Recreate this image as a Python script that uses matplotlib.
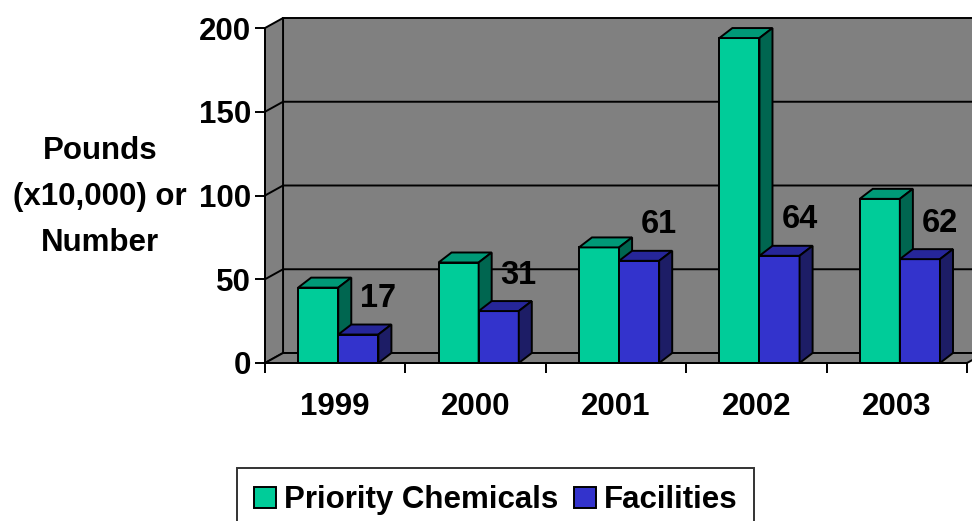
import matplotlib
matplotlib.use("Agg")
import matplotlib.pyplot as plt
from matplotlib.patches import Polygon, Patch

# %%
# Data
# ------------------------------------------
years = ["1999", "2000", "2001", "2002", "2003"]
chemicals = [45, 60, 69, 194, 98]
facilities = [17, 31, 61, 64, 62]
series_names = ["Priority Chemicals", "Facilities"]

# %%
# Style
# ------------------------------------------
plt.rcParams['font.family'] = ['Liberation Sans', 'DejaVu Sans']
fs = 22.5
wall_col = "#808080"
green = ("#00cc99", "#009977", "#006650")   # front, top, side
blue = ("#3333cc", "#262699", "#1d1d66")
lw = 1.4

# depth offsets in data units (x: categories, y: value)
wdx, wdy = 18 / 140, 10 / 1.675
bdx, bdy = 13 / 140, 10 / 1.675
bar_w = 40 / 140
ymax = 200

fig = plt.figure(figsize=(9.72, 5.21), dpi=100)
ax = fig.add_axes([265 / 972, (521 - 363) / 521, (967 - 265) / 972, (363 - 28) / 521])
ax.set_xlim(0, len(years))
ax.set_ylim(0, ymax)
ax.patch.set_visible(False)


def poly(pts, fc, z):
    ax.add_patch(Polygon(pts, closed=True, facecolor=fc, edgecolor="black",
                         linewidth=lw, zorder=z, clip_on=False, joinstyle="miter"))


n = len(years)

# %%
# Walls and floor
# ------------------------------------------
poly([(wdx, wdy), (n + wdx, wdy), (n + wdx, ymax + wdy), (wdx, ymax + wdy)], wall_col, 1)
poly([(0, 0), (wdx, wdy), (wdx, ymax + wdy), (0, ymax)], wall_col, 1)
poly([(0, 0), (n, 0), (n + wdx, wdy), (wdx, wdy)], wall_col, 1)

for g in [50, 100, 150]:
    ax.plot([0, wdx, n + wdx], [g, g + wdy, g + wdy], color="black", lw=lw, zorder=1.5, clip_on=False)

# %%
# Bars
# ------------------------------------------
def bar3d(x0, h, cols):
    x1 = x0 + bar_w
    poly([(x0, 0), (x1, 0), (x1, h), (x0, h)], cols[0], 3)
    poly([(x0, h), (x1, h), (x1 + bdx, h + bdy), (x0 + bdx, h + bdy)], cols[1], 3)
    poly([(x1, 0), (x1 + bdx, bdy), (x1 + bdx, h + bdy), (x1, h)], cols[2], 3)


for i in range(n):
    bar3d(i + 0.236, chemicals[i], green)
    bar3d(i + 0.236 + bar_w, facilities[i], blue)
    ax.text(i + 0.236 + 2 * bar_w, facilities[i] + 21.5, str(facilities[i]),
            ha="center", va="center", fontsize=fs + 1, fontweight="bold", zorder=5)
    ax.text(i + 0.5, -26.5, years[i], ha="center", va="center",
            fontsize=fs, fontweight="bold")

# %%
# Axes
# ------------------------------------------
for s in ["top", "right"]:
    ax.spines[s].set_visible(False)
for s in ["left", "bottom"]:
    ax.spines[s].set_linewidth(lw)
    ax.spines[s].set_zorder(4)
ax.set_yticks([0, 50, 100, 150, 200])
ax.set_yticklabels(["0", "50", "100", "150", "200"], fontsize=fs, fontweight="bold")
ax.set_xticks(range(n + 1))
ax.set_xticklabels([])
ax.tick_params(axis="both", direction="out", length=7, width=lw, pad=3)

fig.text(100 / 972, 1 - 197 / 521, "Pounds\n(x10,000) or\nNumber", ha="center", va="center",
         fontsize=fs, fontweight="bold", linespacing=1.7)

handles = [Patch(facecolor=green[0], edgecolor="black", linewidth=lw),
           Patch(facecolor=blue[0], edgecolor="black", linewidth=lw)]
leg = fig.legend(handles, series_names, loc="upper left", bbox_to_anchor=(237 / 972, 1 - 468 / 521),
                 ncol=2, prop={"weight": "bold", "size": fs}, frameon=True, fancybox=False,
                 handlelength=0.7, handleheight=0.65, handletextpad=0.25, columnspacing=0.5,
                 borderpad=0.55, borderaxespad=0)
leg.get_frame().set_edgecolor("black")
leg.get_frame().set_linewidth(lw)

fig.savefig("out.png", dpi=100)
